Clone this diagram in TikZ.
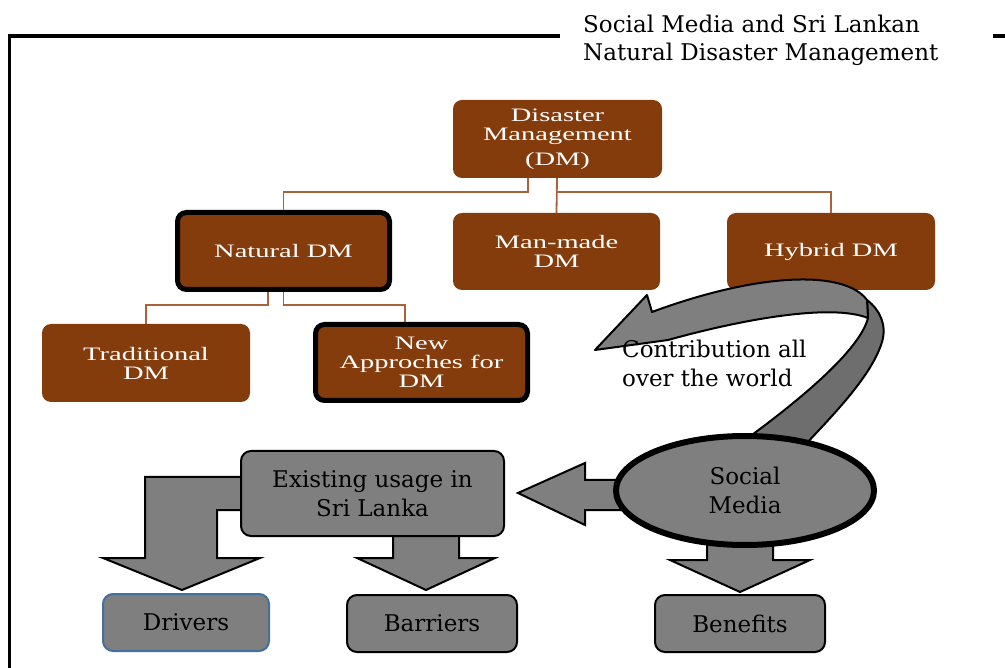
\documentclass[tikz,border=0pt]{standalone}
\usepackage{fontspec}
\setmainfont{DejaVu Serif}
\newfontfamily\boxfont[FakeStretch=1.5]{Liberation Serif}
\usetikzlibrary{shapes.geometric,calc}
\definecolor{dmbrown}{HTML}{843C0C}
\definecolor{linkbrown}{HTML}{A9623A}
\definecolor{smgray}{HTML}{7F7F7F}
\definecolor{twistgray}{HTML}{6E6E6E}
\definecolor{drvblue}{HTML}{41719C}
\tikzset{
  brownbox/.style={draw=none, fill=dmbrown, rounded corners=9pt, minimum width=208pt, minimum height=77pt,
    text=white, align=center, font=\boxfont\fontsize{19}{19}\selectfont, inner sep=0pt},
  boldbox/.style={brownbox, draw=black, line width=5pt},
  link/.style={draw=linkbrown, line width=1.8pt},
  graybox/.style={draw=black, line width=2pt, fill=smgray, rounded corners=10pt, align=center,
    font=\fontsize{23}{29.5}\selectfont, inner sep=0pt},
  blockarrow/.style={draw=black, line width=2pt, fill=smgray, line join=miter},
  ribbon/.style={draw=black, line width=2pt, line join=round},
  framepen/.style={line width=3.5pt}
}
\begin{document}
\begin{tikzpicture}[x=1pt,y=-1pt]
\useasboundingbox (0,0) rectangle (1005,668);
% frame and title
\draw[framepen] (560,36) -- (9.5,36) -- (9.5,670);
\draw[framepen] (993,36) -- (1005,36);
\node[anchor=north west, align=left, inner sep=0pt, font=\fontsize{23}{28}\selectfont] (title) at (583,15)
  {Social Media and Sri Lankan\\Natural Disaster Management};
% brown hierarchy
\node[brownbox, minimum width=209pt, minimum height=78pt] (dm) at (557.5,139) {Disaster\\Management\\[6pt](DM)};
\node[boldbox, minimum width=212pt, minimum height=77pt] (nat) at (283.5,251) {Natural DM};
\node[brownbox, minimum width=207pt] (man) at (556.5,251.5) {Man-made\\DM};
\node[brownbox] (hyb) at (831,251.5) {Hybrid DM};
\node[brownbox, minimum height=78pt] (trad) at (146,363) {Traditional\\DM};
\node[boldbox, minimum width=212pt, minimum height=76pt] (newap) at (421.5,362.5) {New\\Approches for\\DM};
\draw[link] ([xshift=-29.5pt]dm.south) -- ++(0,14) -| (nat.north);
\draw[link] ([xshift=-0.5pt]dm.south) -- (man.north);
\draw[link] ($(dm.south)+(-0.5,14)$) -| (hyb.north);
\draw[link] ([xshift=-15.5pt]nat.south) -- ++(0,13) -| (trad.north);
\draw[link] (nat.south) -- ++(0,13) -| ([xshift=-16.5pt]newap.north);
% curved ribbon arrow
\draw[ribbon, fill=twistgray] (867,300) .. controls (880,310) and (887,325) .. (882,342)
  .. controls (872,375) and (835,413) .. (805,445) -- (745,440)
  .. controls (800,400) and (860,350) .. (868,318) -- cycle;
\draw[ribbon, fill=smgray] (867,300) .. controls (845,270) and (760,272) .. (652,312)
  -- (647,295) -- (595,350) -- (668,340)
  .. controls (740,320) and (830,303) .. (868,318) -- cycle;
\node[anchor=north west, align=left, inner sep=0pt, font=\fontsize{23}{28.5}\selectfont] (contrib) at (622,340)
  {Contribution all\\over the world};
% block arrows
\draw[blockarrow] (260,477) -- (145,477) -- (145,558) -- (103,558) -- (182,590) -- (260,558)
  -- (217,558) -- (217,510) -- (260,510);
\draw[blockarrow] (393,525) -- (393,558) -- (357,558) -- (426,590) -- (495,558) -- (459,558) -- (459,525);
\draw[blockarrow] (707,530) -- (707,560) -- (670,560) -- (740,592) -- (810,560) -- (773,560) -- (773,530);
\draw[blockarrow] (640,480) -- (585,480) -- (585,463) -- (518,493) -- (585,525) -- (585,510) -- (640,510);
% gray nodes
\node[graybox, minimum width=263pt, minimum height=85pt] (exist) at (372.5,493.5) {Existing usage in\\Sri Lanka};
\node[ellipse, draw=black, line width=6pt, fill=smgray, minimum width=258pt, minimum height=109pt,
  inner sep=0pt, align=center, font=\fontsize{23}{29.5}\selectfont] (social) at (745,490.5) {Social\\Media};
\node[graybox, draw=drvblue, minimum width=166pt, minimum height=57pt] (drivers) at (186,622.5) {Drivers};
\node[graybox, minimum width=170pt, minimum height=57pt] (barriers) at (432,623.5) {Barriers};
\node[graybox, minimum width=170pt, minimum height=57pt] (benefits) at (740,623.5) {Benefits};
\end{tikzpicture}
\end{document}
